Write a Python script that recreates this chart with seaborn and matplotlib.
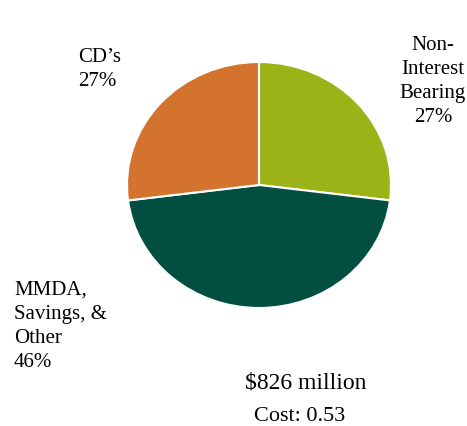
import matplotlib
matplotlib.use("Agg")
import matplotlib.pyplot as plt
import seaborn as sns

# Deposit mix
segments = ["Non-\nInterest\nBearing", "MMDA,\nSavings, &\nOther", "CD\u2019s"]
shares = [27, 46, 27]
colors = ["#9BB316", "#024F41", "#D4732D"]
total_label = "$826 million"
cost_label = "Cost: 0.53"

sns.set_theme(style="white")
plt.rcParams["font.family"] = ["Liberation Serif", "DejaVu Serif"]

W, H = 467, 426
fig = plt.figure(figsize=(W / 100, H / 100), dpi=100)
fig.patch.set_facecolor("white")


def fx(px):
    return px / W


def fy(py):
    return 1 - py / H


# pie occupies a slightly wide ellipse
left, right, top, bottom = 127, 391, 62, 308
ax = fig.add_axes([fx(left), fy(bottom), (right - left) / W, (bottom - top) / H])
ax.pie(shares, colors=colors, startangle=90, counterclock=False,
       wedgeprops=dict(edgecolor="white", linewidth=1.5))
ax.set_aspect("auto")
ax.set_xlim(-1, 1)
ax.set_ylim(-1, 1)
ax.axis("off")

# multi-line labels are anchored on the baseline of their last line
fs = 15
ls = 1.36
fig.text(fx(433), fy(122), f"{segments[0]}\n{shares[0]}%", ha="center", va="baseline",
         fontsize=fs, color="black", linespacing=ls, multialignment="center")
fig.text(fx(14), fy(367), f"{segments[1]}\n{shares[1]}%", ha="left", va="baseline",
         fontsize=fs, color="black", linespacing=ls)
fig.text(fx(78), fy(86), f"{segments[2]}\n{shares[2]}%", ha="left", va="baseline",
         fontsize=fs, color="black", linespacing=ls)

fig.text(fx(306), fy(388), total_label, ha="center", va="baseline", fontsize=17, color="black")
fig.text(fx(300), fy(421), cost_label, ha="center", va="baseline", fontsize=16, color="black")

fig.savefig("out.png", dpi=100, facecolor="white")
